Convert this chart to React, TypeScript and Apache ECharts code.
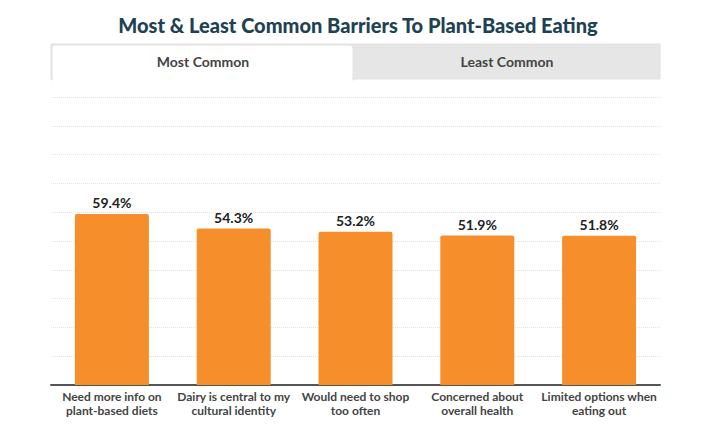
import React, { useEffect, useRef } from "react";
import * as echarts from "echarts";

const categories = [
  "Need more info on\nplant-based diets",
  "Dairy is central to my\ncultural identity",
  "Would need to shop\ntoo often",
  "Concerned about\noverall health",
  "Limited options when\neating out",
];
const values = [59.4, 54.3, 53.2, 51.9, 51.8];
const tabLabels = ["Most Common", "Least Common"];
const titleText = "Most & Least Common Barriers To Plant-Based Eating";

const FONT = "Lato, 'Open Sans', sans-serif";

export default function App() {
  const ref = useRef<HTMLDivElement>(null);

  useEffect(() => {
    if (!ref.current) return;
    const chart = echarts.init(ref.current, null, { renderer: "svg" });
    chart.setOption({
      animation: false,
      backgroundColor: "#ffffff",
      title: {
        text: titleText,
        left: "center",
        top: 10,
        textStyle: {
          fontFamily: FONT,
          fontWeight: 900,
          fontSize: 20,
          color: "#1e4252",
        },
      },
      graphic: [
        // tab strip
        {
          type: "rect",
          shape: { x: 51, y: 44, width: 609, height: 35 },
          style: { fill: "#e6e6e6", stroke: "#e0e0e0", lineWidth: 1 },
          silent: true,
        },
        {
          type: "rect",
          shape: { x: 52, y: 45, width: 301, height: 35, r: [3, 3, 0, 0] },
          style: { fill: "#ffffff", stroke: "#e2e2e2", lineWidth: 1 },
          silent: true,
        },
        {
          type: "rect",
          shape: { x: 53, y: 78, width: 299, height: 4 },
          style: { fill: "#ffffff" },
          silent: true,
        },
        {
          type: "text",
          x: 203,
          y: 61,
          style: {
            text: tabLabels[0],
            fontFamily: FONT,
            fontWeight: "bold",
            fontSize: 14,
            fill: "#444444",
            align: "center",
            verticalAlign: "middle",
          },
          silent: true,
        },
        {
          type: "text",
          x: 507,
          y: 61,
          style: {
            text: tabLabels[1],
            fontFamily: FONT,
            fontWeight: "bold",
            fontSize: 14,
            fill: "#444444",
            align: "center",
            verticalAlign: "middle",
          },
          silent: true,
        },
      ],
      grid: { left: 51, right: 56, top: 97, bottom: 41, containLabel: false },
      xAxis: {
        type: "category",
        data: categories,
        axisLine: { lineStyle: { color: "#555555", width: 2 } },
        axisTick: { show: false },
        axisLabel: {
          interval: 0,
          margin: 4,
          fontFamily: FONT,
          fontWeight: "bold",
          fontSize: 12,
          lineHeight: 14,
          color: "#444444",
        },
      },
      yAxis: {
        type: "value",
        min: 0,
        max: 100,
        interval: 10,
        axisLabel: { show: false },
        axisLine: { show: false },
        axisTick: { show: false },
        splitLine: { lineStyle: { color: "#e4e4e4", type: "dotted", width: 1 } },
      },
      series: [
        {
          type: "bar",
          data: values,
          barWidth: 74,
          itemStyle: { color: "#f68f2b", borderRadius: [2, 2, 0, 0] },
          label: {
            show: true,
            position: "top",
            distance: 4,
            formatter: (p: any) => p.value.toFixed(1) + "%",
            fontFamily: FONT,
            fontWeight: "bold",
            fontSize: 14,
            color: "#222222",
          },
        },
      ],
    });
    return () => chart.dispose();
  }, []);

  return (
    <div
      ref={ref}
      style={{ position: "absolute", left: 0, top: 0, width: 716, height: 426 }}
    />
  );
}
